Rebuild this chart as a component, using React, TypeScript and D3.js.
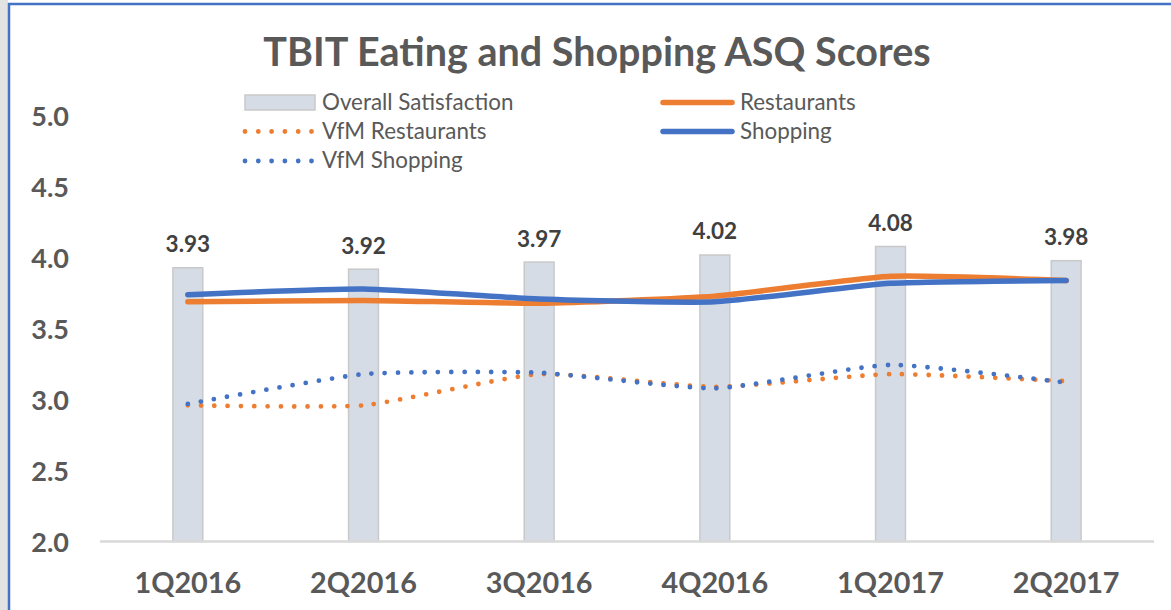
import React from "react";
import * as d3 from "d3";

const categories = ["1Q2016", "2Q2016", "3Q2016", "4Q2016", "1Q2017", "2Q2017"];
const overallSatisfaction = [3.93, 3.92, 3.97, 4.02, 4.08, 3.98];
const restaurants = [3.69, 3.7, 3.68, 3.73, 3.87, 3.84];
const vfmRestaurants = [2.96, 2.96, 3.18, 3.09, 3.18, 3.13];
const shopping = [3.74, 3.78, 3.71, 3.69, 3.82, 3.84];
const vfmShopping = [2.97, 3.18, 3.19, 3.08, 3.245, 3.12];
const yTicks = [2.0, 2.5, 3.0, 3.5, 4.0, 4.5, 5.0];

const ORANGE = "#ED7D31";
const BLUE = "#4472C4";
const BAR_FILL = "#D6DCE5";
const BAR_STROKE = "#C9C9C9";
const TEXT = "#595959";
const FONT = "Lato, 'Open Sans', sans-serif";

const W = 1171;
const H = 610;

export default function App() {
  const x = d3
    .scaleBand<string>()
    .domain(categories)
    .range([100, 1154])
    .paddingInner(0.83)
    .paddingOuter(0.415);
  const cx = (c: string) => (x(c) as number) + x.bandwidth() / 2;
  const y = d3.scaleLinear().domain([2, 5]).range([541.5, 116]);

  const line = d3
    .line<number>()
    .x((_, i) => cx(categories[i]))
    .y((d) => y(d))
    .curve(d3.curveCardinal.tension(0.5));

  const series = [
    { name: "Restaurants", values: restaurants, color: ORANGE, dotted: false },
    { name: "VfM Restaurants", values: vfmRestaurants, color: ORANGE, dotted: true },
    { name: "Shopping", values: shopping, color: BLUE, dotted: false },
    { name: "VfM Shopping", values: vfmShopping, color: BLUE, dotted: true },
  ];

  const dotted = { strokeDasharray: "0 13.3", strokeWidth: 4.8 };

  return (
    <svg
      width={W}
      height={H}
      style={{ position: "absolute", left: 0, top: 0, background: "#fff" }}
      fontFamily={FONT}
    >
      <rect x={0} y={0} width={8} height={H} fill="#E3E3E3" />
      <rect x={8} y={3} width={W - 8} height={H - 3} fill="#fff" />
      <line x1={9} x2={9} y1={3} y2={H} stroke={BLUE} strokeWidth={2.5} />
      <line x1={8} x2={W} y1={4} y2={4} stroke={BLUE} strokeWidth={2.5} />

      <text
        x={597}
        y={66}
        textAnchor="middle"
        fontSize={39.5}
        fontWeight={700}
        fill={TEXT}
      >
        TBIT Eating and Shopping ASQ Scores
      </text>

      {/* Y axis labels */}
      {yTicks.map((t) => (
        <text
          key={t}
          x={69}
          y={y(t) + 10}
          textAnchor="end"
          fontSize={27}
          fontWeight={700}
          fill={TEXT}
        >
          {t.toFixed(1)}
        </text>
      ))}

      {/* bars */}
      {categories.map((c, i) => (
        <rect
          key={c}
          x={x(c)}
          y={y(overallSatisfaction[i])}
          width={x.bandwidth()}
          height={y(2) - y(overallSatisfaction[i])}
          fill={BAR_FILL}
          stroke={BAR_STROKE}
          strokeWidth={1.5}
        />
      ))}

      {/* axis line */}
      <line x1={100} x2={1154} y1={y(2)} y2={y(2)} stroke="#D9D9D9" strokeWidth={2.5} />

      {/* data labels */}
      {categories.map((c, i) => (
        <text
          key={c}
          x={cx(c)}
          y={y(overallSatisfaction[i]) - 15.5}
          textAnchor="middle"
          fontSize={22.5}
          fontWeight={700}
          fill="#404040"
        >
          {overallSatisfaction[i].toFixed(2)}
        </text>
      ))}

      {/* lines */}
      {series.map((s) => (
        <path
          key={s.name}
          d={line(s.values) as string}
          fill="none"
          stroke={s.color}
          strokeLinecap="round"
          strokeLinejoin="round"
          strokeWidth={s.dotted ? dotted.strokeWidth : 5.5}
          strokeDasharray={s.dotted ? dotted.strokeDasharray : undefined}
        />
      ))}

      {/* x labels */}
      {categories.map((c) => (
        <text
          key={c}
          x={cx(c)}
          y={593}
          textAnchor="middle"
          fontSize={28.8}
          fontWeight={700}
          fill={TEXT}
        >
          {c}
        </text>
      ))}

      {/* legend */}
      <g fontSize={22.4} fill={TEXT}>
        <rect x={245} y={95} width={70} height={15} fill={BAR_FILL} stroke={BAR_STROKE} strokeWidth={1.5} />
        <text x={322} y={110}>Overall Satisfaction</text>

        <line x1={245} x2={313} y1={131.5} y2={131.5} stroke={ORANGE} strokeWidth={dotted.strokeWidth} strokeLinecap="round" strokeDasharray={dotted.strokeDasharray} />
        <text x={322} y={139}>VfM Restaurants</text>

        <line x1={245} x2={313} y1={161} y2={161} stroke={BLUE} strokeWidth={dotted.strokeWidth} strokeLinecap="round" strokeDasharray={dotted.strokeDasharray} />
        <text x={322} y={168}>VfM Shopping</text>

        <line x1={663} x2={732} y1={102.5} y2={102.5} stroke={ORANGE} strokeWidth={5.5} strokeLinecap="round" />
        <text x={740} y={110}>Restaurants</text>

        <line x1={663} x2={732} y1={131.5} y2={131.5} stroke={BLUE} strokeWidth={5.5} strokeLinecap="round" />
        <text x={740} y={139}>Shopping</text>
      </g>
    </svg>
  );
}
